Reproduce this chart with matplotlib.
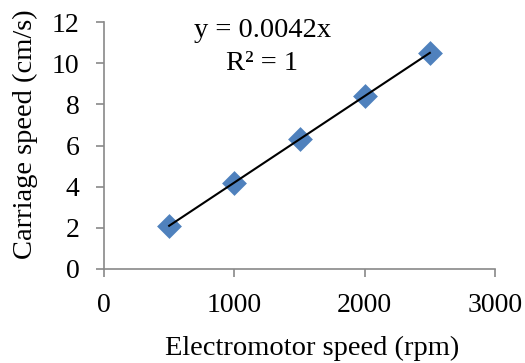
import matplotlib
matplotlib.use("Agg")
import matplotlib.pyplot as plt
import numpy as np

motor_speed = [500, 1000, 1500, 2000, 2500]
carriage_speed = [2.1, 4.2, 6.3, 8.4, 10.5]
slope = 0.0042
x_ticks = [0, 1000, 2000, 3000]
y_ticks = [0, 2, 4, 6, 8, 10, 12]

plt.rcParams['font.family'] = ['Liberation Serif', 'DejaVu Serif']

W, H = 525, 363
fig = plt.figure(figsize=(W / 100, H / 100), dpi=100)
L, R, T, B = 104, 495, 22, 269
ax = fig.add_axes([L / W, (H - B) / H, (R - L) / W, (B - T) / H])

ax.scatter(motor_speed, carriage_speed, marker='D', s=160, color='#4F81BD', zorder=2, linewidths=0)
xs = np.array([motor_speed[0], motor_speed[-1]])
ax.plot(xs, slope * xs, color='black', lw=1.5, zorder=3)

ax.set_xlim(0, 3000)
ax.set_ylim(0, 12)
ax.set_xticks(x_ticks)
ax.set_yticks(y_ticks)
ax.tick_params(labelsize=20, direction='out', length=5.5, color='#898989', width=1.2)
ax.tick_params(axis='x', pad=11.5)
ax.tick_params(axis='y', pad=12)
for s in ['top', 'right']:
    ax.spines[s].set_visible(False)
for s in ['left', 'bottom']:
    ax.spines[s].set_color('#898989')
    ax.spines[s].set_linewidth(1.2)

fig.text(312 / W, 1 - 348 / H, 'Electromotor speed (rpm)', fontsize=20.5, ha='center', va='center')
fig.text(25 / W, 1 - 134 / H, 'Carriage speed (cm/s)', fontsize=20.5, ha='center', va='center', rotation=90)

fig.text(263 / W, 1 - 37 / H, 'y = 0.0042x', fontsize=20.5, ha='center', va='baseline')
fig.text(262 / W, 1 - 70 / H, 'R² = 1', fontsize=20.5, ha='center', va='baseline')

fig.savefig('out.png', dpi=100)
